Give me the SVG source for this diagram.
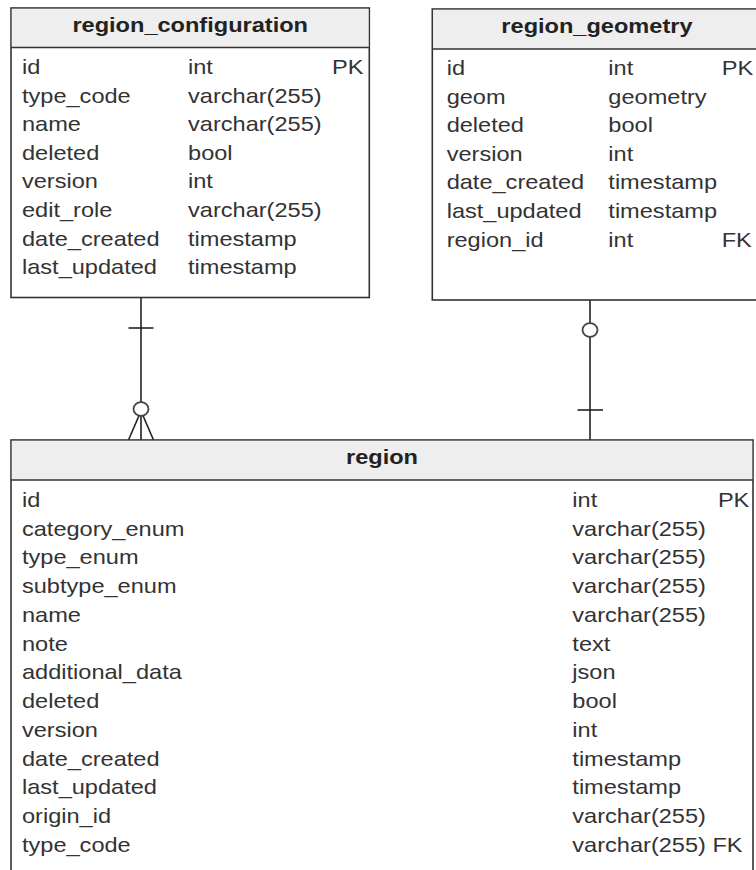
<svg xmlns="http://www.w3.org/2000/svg" width="756" height="870" viewBox="0 0 756 870">
<style>
.box{fill:#ffffff;stroke:#333333;stroke-width:1.6}
.hdr{fill:#eeeeee;stroke:none}
.sep{stroke:#333333;stroke-width:1.6}
.t{font-family:"Liberation Sans",Arial,sans-serif;font-size:20.5px;fill:#333333}
.ttl{font-family:"Liberation Sans",Arial,sans-serif;font-size:20.5px;font-weight:bold;fill:#222222;text-anchor:middle}
.e{text-anchor:end}
.cn{stroke:#222222;stroke-width:1.6;fill:none}
.ring{fill:#ffffff;stroke:#444444;stroke-width:1.8}
</style>
<rect x="0" y="0" width="756" height="870" fill="#ffffff"/>

<g id="connectors">
  <g id="conn-config-region">
    <line class="cn" x1="141" y1="297.5" x2="141" y2="440"/>
    <line class="cn" x1="128.5" y1="328" x2="153.5" y2="328"/>
    <line class="cn" x1="141" y1="411" x2="128.5" y2="440"/>
    <line class="cn" x1="141" y1="411" x2="153.5" y2="440"/>
    <ellipse class="ring" cx="141" cy="409" rx="7.5" ry="6.8"/>
  </g>
  <g id="conn-geometry-region">
    <line class="cn" x1="590" y1="300" x2="590" y2="440"/>
    <ellipse class="ring" cx="590" cy="330" rx="7.5" ry="6.8"/>
    <line class="cn" x1="577.5" y1="410" x2="603" y2="410"/>
  </g>
</g>

<g id="region_configuration">
  <rect class="box" x="11" y="8" width="358.3" height="289.5"/>
  <rect class="hdr" x="11.8" y="8.8" width="356.7" height="38.7"/>
  <line class="sep" x1="11" y1="47.5" x2="369.3" y2="47.5"/>
  <g transform="matrix(1.15 0 0 1 0 0)">
    <text class="ttl" x="165.4" y="32">region_configuration</text>
    <g class="t">
      <text x="19.1" y="74">id</text><text x="163.5" y="74">int</text><text class="e" x="316.1" y="74">PK</text>
      <text x="19.1" y="102.6">type_code</text><text x="163.5" y="102.6">varchar(255)</text>
      <text x="19.1" y="131.2">name</text><text x="163.5" y="131.2">varchar(255)</text>
      <text x="19.1" y="159.8">deleted</text><text x="163.5" y="159.8">bool</text>
      <text x="19.1" y="188.4">version</text><text x="163.5" y="188.4">int</text>
      <text x="19.1" y="217">edit_role</text><text x="163.5" y="217">varchar(255)</text>
      <text x="19.1" y="245.6">date_created</text><text x="163.5" y="245.6">timestamp</text>
      <text x="19.1" y="274.2">last_updated</text><text x="163.5" y="274.2">timestamp</text>
    </g>
  </g>
</g>

<g id="region_geometry">
  <rect class="box" x="432.3" y="9" width="340" height="291"/>
  <rect class="hdr" x="433.1" y="9.8" width="338" height="39.2"/>
  <line class="sep" x1="432.3" y1="49" x2="772.3" y2="49"/>
  <g transform="matrix(1.15 0 0 1 0 0)">
    <text class="ttl" x="519.1" y="33">region_geometry</text>
    <g class="t">
      <text x="388.4" y="75">id</text><text x="529" y="75">int</text><text x="627.6" y="75">PK</text>
      <text x="388.4" y="103.6">geom</text><text x="529" y="103.6">geometry</text>
      <text x="388.4" y="132.2">deleted</text><text x="529" y="132.2">bool</text>
      <text x="388.4" y="160.8">version</text><text x="529" y="160.8">int</text>
      <text x="388.4" y="189.4">date_created</text><text x="529" y="189.4">timestamp</text>
      <text x="388.4" y="218">last_updated</text><text x="529" y="218">timestamp</text>
      <text x="388.4" y="246.6">region_id</text><text x="529" y="246.6">int</text><text x="627.6" y="246.6">FK</text>
    </g>
  </g>
</g>

<g id="region">
  <rect class="box" x="11" y="440" width="742" height="440"/>
  <rect class="hdr" x="11.8" y="440.8" width="740.4" height="39.2"/>
  <line class="sep" x1="11" y1="480" x2="753" y2="480"/>
  <g transform="matrix(1.15 0 0 1 0 0)">
    <text class="ttl" x="332.2" y="464">region</text>
    <g class="t">
      <text x="19.1" y="507">id</text><text x="497.7" y="507">int</text><text class="e" x="651.6" y="507">PK</text>
      <text x="19.1" y="535.75">category_enum</text><text x="497.7" y="535.75">varchar(255)</text>
      <text x="19.1" y="564.5">type_enum</text><text x="497.7" y="564.5">varchar(255)</text>
      <text x="19.1" y="593.25">subtype_enum</text><text x="497.7" y="593.25">varchar(255)</text>
      <text x="19.1" y="622">name</text><text x="497.7" y="622">varchar(255)</text>
      <text x="19.1" y="650.75">note</text><text x="497.7" y="650.75">text</text>
      <text x="19.1" y="679.5">additional_data</text><text x="497.7" y="679.5">json</text>
      <text x="19.1" y="708.25">deleted</text><text x="497.7" y="708.25">bool</text>
      <text x="19.1" y="737">version</text><text x="497.7" y="737">int</text>
      <text x="19.1" y="765.75">date_created</text><text x="497.7" y="765.75">timestamp</text>
      <text x="19.1" y="794.5">last_updated</text><text x="497.7" y="794.5">timestamp</text>
      <text x="19.1" y="823.25">origin_id</text><text x="497.7" y="823.25">varchar(255)</text>
      <text x="19.1" y="852">type_code</text><text x="497.7" y="852">varchar(255) <tspan>FK</tspan></text>
    </g>
  </g>
</g>
</svg>
